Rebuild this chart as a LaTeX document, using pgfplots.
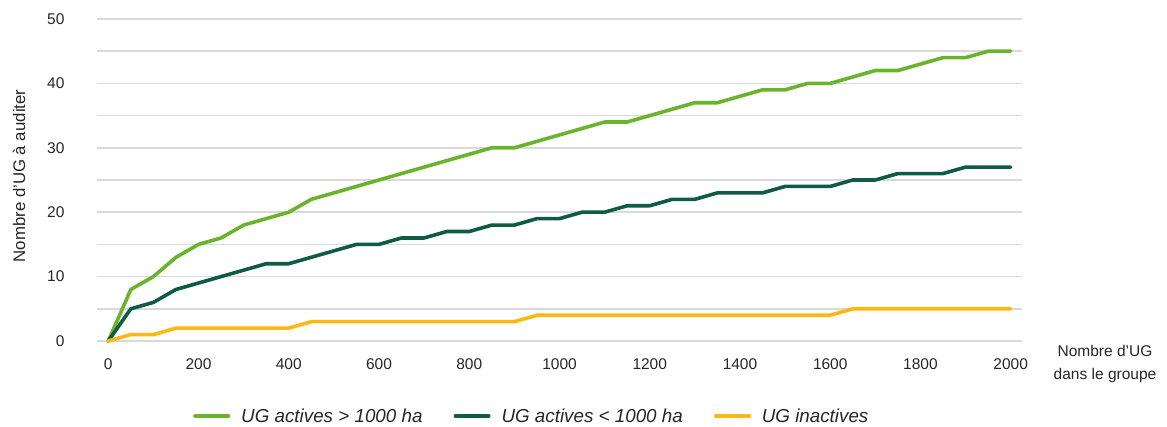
\documentclass[border=0pt]{standalone}
\usepackage{fontspec}
\setmainfont{Liberation Sans}
\usepackage{pgfplots}
\usepackage{pgfplotstable}
\pgfplotsset{compat=1.18}
\definecolor{lg}{HTML}{6AB42D}
\definecolor{dg}{HTML}{0F5B45}
\definecolor{yl}{HTML}{FDB813}
\definecolor{gridc}{HTML}{D9D9D9}
\definecolor{txt}{HTML}{262626}
\pgfplotstableread{
x big small inact
0 0 0 0
50 8 5 1
100 10 6 1
150 13 8 2
200 15 9 2
250 16 10 2
300 18 11 2
350 19 12 2
400 20 12 2
450 22 13 3
500 23 14 3
550 24 15 3
600 25 15 3
650 26 16 3
700 27 16 3
750 28 17 3
800 29 17 3
850 30 18 3
900 30 18 3
950 31 19 4
1000 32 19 4
1050 33 20 4
1100 34 20 4
1150 34 21 4
1200 35 21 4
1250 36 22 4
1300 37 22 4
1350 37 23 4
1400 38 23 4
1450 39 23 4
1500 39 24 4
1550 40 24 4
1600 40 24 4
1650 41 25 5
1700 42 25 5
1750 42 26 5
1800 43 26 5
1850 44 26 5
1900 44 27 5
1950 45 27 5
2000 45 27 5
}\data
\begin{document}
\begin{tikzpicture}[x=1pt,y=1pt]
\path[use as bounding box] (0,0) rectangle (1167,427);
\begin{axis}[
  at={(97pt,86pt)}, anchor=south west,
  scale only axis, width=925pt, height=322pt,
  xmin=-25, xmax=2025, ymin=0, ymax=50,
  axis line style={draw=none},
  major tick length=0pt, minor tick length=0pt,
  xtick={0,200,...,2000},
  ytick={0,10,...,50}, minor ytick={5,15,...,45},
  ymajorgrids, yminorgrids,
  major grid style={gridc, line width=1.5pt},
  minor grid style={gridc, line width=1.5pt},
  ticklabel style={font=\fontsize{15.5}{18}\selectfont, text=txt},
  xticklabel style={yshift=-14pt},
  yticklabel style={xshift=-29pt},
  /pgf/number format/assume math mode=true,
  /pgf/number format/1000 sep={},
  clip=false,
  legend columns=3,
  legend style={at={(0.1038,-0.2329)}, anchor=west, draw=none, inner sep=0pt,
    font=\fontsize{18.8}{21}\selectfont\itshape, text=txt,
    /tikz/every odd column/.append style={column sep=9pt},
    /tikz/every even column/.append style={column sep=29pt}},
  legend image code/.code={\draw[#1, line cap=round] (0pt,0pt) -- (33.4pt,0pt);},
  every axis plot/.append style={line width=3.6pt, line join=round, line cap=round},
]
\addplot[lg] table[x=x, y=big] {\data};
\addlegendentry{UG actives > 1000 ha}
\addplot[dg] table[x=x, y=small] {\data};
\addlegendentry{UG actives < 1000 ha}
\addplot[yl] table[x=x, y=inact] {\data};
\addlegendentry{UG inactives}
\end{axis}
\node[align=center, text=txt, font=\fontsize{15.5}{23}\selectfont] at (1105,63) {Nombre d’UG\\dans le groupe};
\node[rotate=90, text=txt, font=\fontsize{16.8}{19}\selectfont] at (19,251) {Nombre d’UG à auditer};
\end{tikzpicture}
\end{document}
